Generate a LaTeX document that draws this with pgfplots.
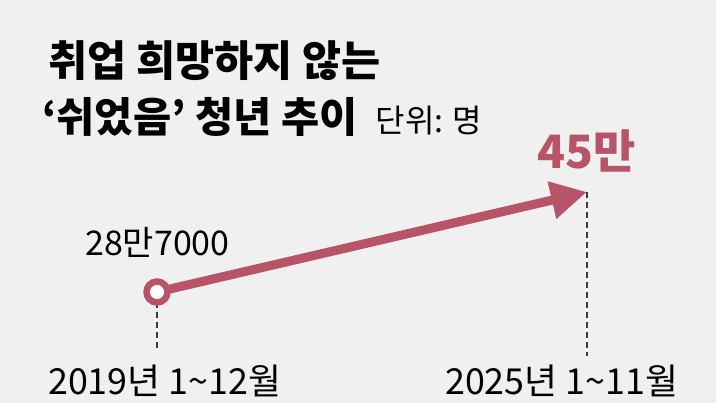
\documentclass[border=0pt]{standalone}
\usepackage{fontspec}
\setmainfont{Noto Sans CJK KR}
\usepackage{pgfplots}
\pgfplotsset{compat=1.18}
\usetikzlibrary{arrows.meta}
\definecolor{bg}{HTML}{F0F0F0}
\definecolor{rose}{HTML}{B85468}
\definecolor{dashgray}{HTML}{3A3A3A}
\tikzset{lbl/.style={inner sep=0pt, anchor=base west}}

\begin{document}
\begin{tikzpicture}
\fill[bg] (0,0) rectangle (716bp,403bp);
\begin{axis}[
    at={(0,0)}, anchor=south west,
    width=716bp, height=403bp, scale only axis,
    xmin=2016.809, xmax=2026.800,
    ymin=106070, ymax=762960,
    hide axis, clip=false,
]
% guide lines down to the period labels
\addplot[dashgray, line width=1.6bp, dash pattern=on 6bp off 4bp] coordinates {(2019,287000) (2019,190000)};
\addplot[dashgray, line width=1.6bp, dash pattern=on 6bp off 4bp] coordinates {(2025,450000) (2025,182000)};
% the rise
\addplot[rose, line width=9bp, -{Triangle[length=36bp,width=36bp]}] coordinates {(2019,287000) (2025,450000)};
\addplot[only marks, mark=*, mark size=10.5bp, mark options={draw=rose, fill=white, line width=6.5bp, solid}] coordinates {(2019,287000)};

\node[lbl, font=\fontsize{42.5bp}{42bp}\selectfont\bfseries] at (rel axis cs:0.067,0.809) {취업 희망하지 않는};
\node[lbl, font=\fontsize{41.5bp}{42bp}\selectfont\bfseries] at (rel axis cs:0.0587,0.670) {‘쉬었음’ 청년 추이\hspace{18bp}{\mdseries\fontsize{32bp}{32bp}\selectfont 단위: 명}};
\node[lbl, font=\fontsize{46bp}{46bp}\selectfont\bfseries, text=rose] at (rel axis cs:0.750,0.583) {45만};
\node[lbl, font=\fontsize{34bp}{34bp}\selectfont] at (rel axis cs:0.1187,0.367) {28만7000};
\node[lbl, font=\fontsize{35.8bp}{36bp}\selectfont] at (rel axis cs:0.067,0.0199) {2019년 1\textasciitilde12월};
\node[lbl, font=\fontsize{35.8bp}{36bp}\selectfont] at (rel axis cs:0.6215,0.0199) {2025년 1\textasciitilde11월};
\end{axis}
\end{tikzpicture}
\end{document}
